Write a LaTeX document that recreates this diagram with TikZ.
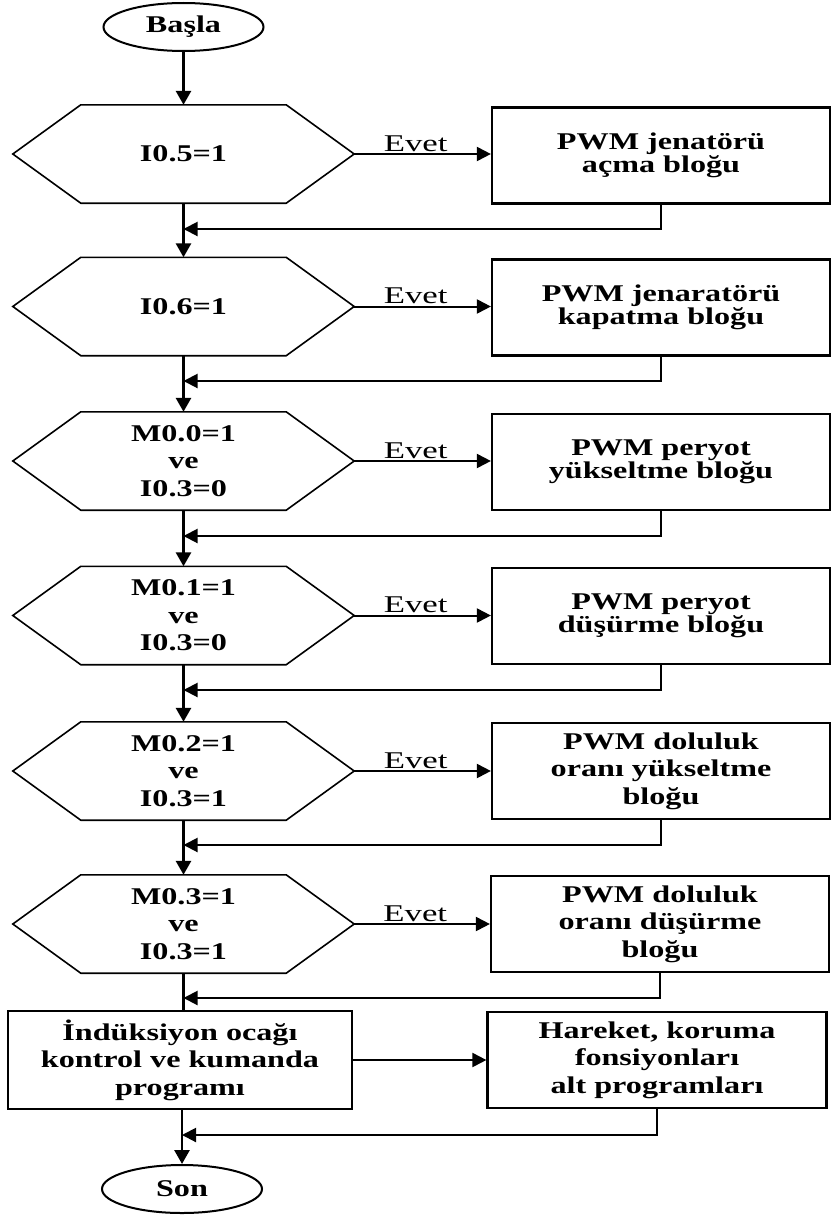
\documentclass[tikz,border=0pt]{standalone}
\usepackage{fontspec}
\setmainfont{Liberation Serif}
\newfontfamily\bfam{Liberation Serif Bold}[FakeStretch=1.34]
\newfontfamily\evetfont{Liberation Serif}[FakeStretch=1.45]
\usetikzlibrary{arrows.meta,shapes.geometric}
\begin{document}
\begin{tikzpicture}[x=1pt,y=-1pt,
  txt/.style={font=\bfam\fontsize{24}{27.5}\selectfont, align=center},
  txttwo/.style={font=\bfam\fontsize{24}{22}\selectfont, align=center},
  term/.style={draw, ellipse, line width=2pt, minimum width=160pt, minimum height=48pt, inner sep=0pt, txt},
  hexnode/.style={minimum width=341pt, minimum height=98pt, inner sep=0pt, txt},
  hexline/.style={line width=1.6pt, line join=miter},
  boxnode/.style={draw, line width=2.2pt, minimum width=338pt, minimum height=96pt, inner sep=0pt},
  arr/.style={line width=2pt, -{Triangle[length=14pt,width=14pt]}},
  mainarr/.style={line width=2.8pt, -{Triangle[length=14pt,width=15pt]}},
  mainline/.style={line width=2.8pt},
  evet/.style={font=\evetfont\fontsize{24}{26}\selectfont, inner sep=1.5pt, pos=0.45}
]
\useasboundingbox (0,0) rectangle (832,1215);

% terminals
\node[term] (start) at (183.5,27) {Başla};
\node[term] (son) at (182,1189) {Son};

% decisions
\node[hexnode] (h1) at (183.5,154) {I0.5=1};
\node[hexnode] (h2) at (183.5,306.5) {I0.6=1};
\node[hexnode] (h3) at (183.5,461) {M0.0=1\\ve\\I0.3=0};
\node[hexnode] (h4) at (183.5,615.5) {M0.1=1\\ve\\I0.3=0};
\node[hexnode] (h5) at (183.5,771) {M0.2=1\\ve\\I0.3=1};
\node[hexnode] (h6) at (183.5,924) {M0.3=1\\ve\\I0.3=1};
\foreach \n in {h1,h2,h3,h4,h5,h6}
  \draw[hexline] (\n.west) -- ([xshift=68pt]\n.north west) -- ([xshift=-68pt]\n.north east)
    -- (\n.east) -- ([xshift=-68pt]\n.south east) -- ([xshift=68pt]\n.south west) -- cycle;

% process boxes
\node[boxnode, txttwo] (b1) at (661,155.5) {PWM jenatörü\\açma bloğu};
\node[boxnode, txttwo] (b2) at (661,307.5) {PWM jenaratörü\\kapatma bloğu};
\node[boxnode, txttwo] (b3) at (661,462) {PWM peryot\\yükseltme bloğu};
\node[boxnode, txttwo] (b4) at (661,616) {PWM peryot\\düşürme bloğu};
\node[boxnode, txt] (b5) at (661,771) {PWM doluluk\\oranı yükseltme\\bloğu};
\node[boxnode, txt] (b6) at (660,924) {PWM doluluk\\oranı düşürme\\bloğu};
\node[boxnode, txt, minimum width=344pt, minimum height=98pt] (b7) at (180,1060) {İndüksiyon ocağı\\kontrol ve kumanda\\programı};
\node[boxnode, txt, minimum width=339pt] (b8) at (657,1060) {Hareket, koruma\\fonsiyonları\\alt programları};

% join points on the main line
\coordinate (j1) at (183.5,229);
\coordinate (j2) at (183.5,381);
\coordinate (j3) at (183.5,536);
\coordinate (j4) at (183.5,690);
\coordinate (j5) at (183.5,845);
\coordinate (j6) at (183.5,998);
\coordinate (j7) at (182,1135);

% main flow
\draw[mainarr] (start.south) -- (h1.north);
\draw[mainarr] (h1.south) -- (h2.north);
\draw[mainarr] (h2.south) -- (h3.north);
\draw[mainarr] (h3.south) -- (h4.north);
\draw[mainarr] (h4.south) -- (h5.north);
\draw[mainarr] (h5.south) -- (h6.north);
\draw[mainline] (h6.south) -- (h6.south |- b7.north);
\draw[mainarr] (son.north |- b7.south) -- (son.north);

% yes branches
\draw[arr] (h1.east) -- node[above, evet] {Evet} (h1.east -| b1.west);
\draw[arr] (h2.east) -- node[above, evet] {Evet} (h2.east -| b2.west);
\draw[arr] (h3.east) -- node[above, evet] {Evet} (h3.east -| b3.west);
\draw[arr] (h4.east) -- node[above, evet] {Evet} (h4.east -| b4.west);
\draw[arr] (h5.east) -- node[above, evet] {Evet} (h5.east -| b5.west);
\draw[arr] (h6.east) -- node[above, evet] {Evet} (h6.east -| b6.west);
\draw[arr] (b7.east) -- (b8.west);

% returns
\draw[arr] (b1.south) |- (j1);
\draw[arr] (b2.south) |- (j2);
\draw[arr] (b3.south) |- (j3);
\draw[arr] (b4.south) |- (j4);
\draw[arr] (b5.south) |- (j5);
\draw[arr] (b6.south) |- (j6);
\draw[arr] (b8.south) |- (j7);
\end{tikzpicture}
\end{document}
